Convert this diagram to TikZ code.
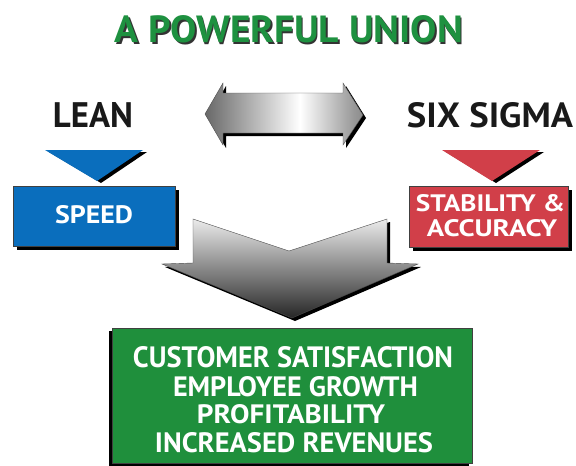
\documentclass[tikz,border=0pt]{standalone}
\usepackage{fontspec}
\setmainfont{PT Sans}
\usepackage{graphicx}
\definecolor{tgreen}{HTML}{1E9140}
\definecolor{lblue}{HTML}{0A6EBD}
\definecolor{sred}{HTML}{D13F49}
\definecolor{bgreen}{HTML}{1F8F3C}
\pgfdeclarehorizontalshading{steel}{100bp}{color(0bp)=(black!90); color(22bp)=(black!65); color(45bp)=(black!20); color(55bp)=(white); color(72bp)=(black!40); color(100bp)=(black!90)}
\newcommand{\fittext}[3]{\resizebox{#1pt}{#2pt}{\bfseries #3}}
\tikzset{
  txt/.style={inner sep=0pt, outer sep=0pt, anchor=center},
  shadowfill/.style={fill=black},
  colbox/.style={draw=black!75, line width=0.6pt, inner sep=0pt, anchor=center},
  outline/.style={draw=black!70, line width=0.4pt}
}
\begin{document}
\begin{tikzpicture}[x=1pt,y=-1pt]
\useasboundingbox (0,0) rectangle (576,466);
% title
\node[txt, text=black!80] (titleshadow) at (290.5,31) {\fittext{348}{27}{A POWERFUL UNION}};
\node[txt, text=tgreen] (title) at (289,29.5) {\fittext{348}{27}{A POWERFUL UNION}};
% headings
\node[txt, text=black!90] (lean) at (93,115.5) {\fittext{80}{25}{LEAN}};
\node[txt, text=black!90] (sigma) at (490,115.5) {\fittext{166}{25}{SIX SIGMA}};
% double arrow
\fill[shadowfill, shift={(3,3)}] (205,114) -- (223,83) -- (223,93) -- (343,93) -- (343,83) -- (363,115) -- (343,145) -- (343,133) -- (223,133) -- (223,145) -- cycle;
\path[shading=steel, outline] (205,114) -- (223,83) -- (223,93) -- (343,93) -- (343,83) -- (363,115) -- (343,145) -- (343,133) -- (223,133) -- (223,145) -- cycle;
% triangles
\fill[shadowfill, shift={(4,2)}] (45,150) -- (143,150) -- (97,181) -- cycle;
\fill[lblue] (45,150) -- (143,150) -- (97,181) -- cycle;
\fill[shadowfill, shift={(4,2)}] (442,150) -- (540,150) -- (492,181) -- cycle;
\fill[sred] (442,150) -- (540,150) -- (492,181) -- cycle;
% speed box
\fill[shadowfill] (17,190) rectangle (179,250);
\node[colbox, fill=lblue, minimum width=162pt, minimum height=60pt] (speedbox) at (94,216) {};
\node[txt, text=white] (speed) at (94,215) {\fittext{78}{18}{SPEED}};
% stability box
\fill[shadowfill] (413,190) rectangle (572,251);
\node[colbox, fill=sred, minimum width=159pt, minimum height=61pt] (stabbox) at (488.5,216.5) {};
\node[txt, text=white] (stab1) at (490.5,203.5) {\fittext{149}{17}{STABILITY \&}};
\node[txt, text=white] (stab2) at (492,228.5) {\fittext{130}{17}{ACCURACY}};
% big arrow
\fill[shadowfill, shift={(3,3)}] (193,219) -- (289,251) -- (387,219) -- (387,263) -- (418,264) -- (292,318) -- (162,264) -- (193,263) -- cycle;
\path[top color=black!8, bottom color=black!85, outline] (193,219) -- (289,251) -- (387,219) -- (387,263) -- (418,264) -- (292,318) -- (162,264) -- (193,263) -- cycle;
% result box
\fill[shadowfill] (109,331) rectangle (469,466);
\node[colbox, fill=bgreen, minimum width=360pt, minimum height=135pt] (resultbox) at (292,395.5) {};
\node[txt, text=white] (r1) at (293,357.5) {\fittext{320}{21}{CUSTOMER SATISFACTION}};
\node[txt, text=white] (r2) at (295.5,387) {\fittext{245}{20}{EMPLOYEE GROWTH}};
\node[txt, text=white] (r3) at (291,414.5) {\fittext{188}{19}{PROFITABILITY}};
\node[txt, text=white] (r4) at (294,443) {\fittext{278}{20}{INCREASED REVENUES}};
\end{tikzpicture}
\end{document}
